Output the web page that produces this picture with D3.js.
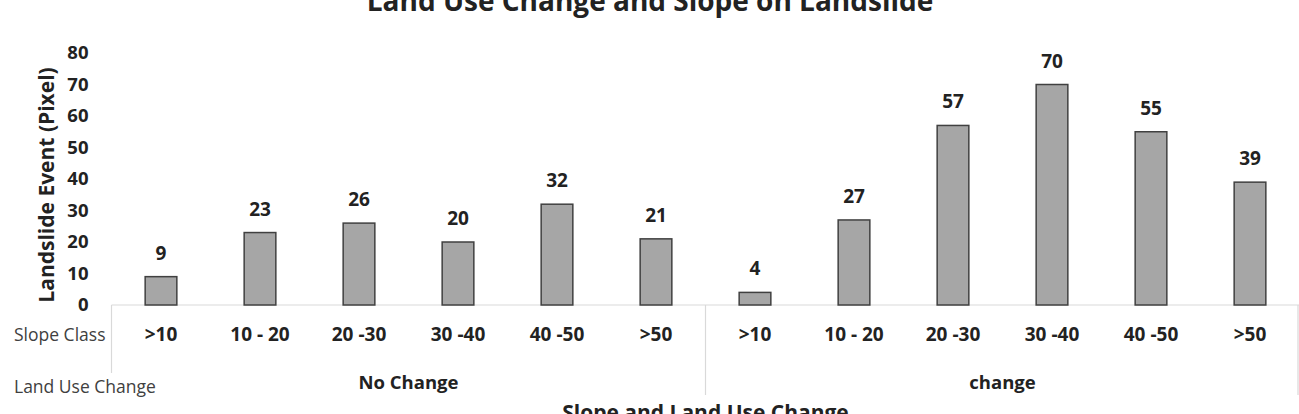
<!DOCTYPE html>
<html>
<head>
<meta charset="utf-8">
<script src="https://cdn.jsdelivr.net/npm/d3@7"></script>
<style>
  body { margin: 0; background: #ffffff; }
  svg { display: block; font-family: "Open Sans", sans-serif; }
  .axisText text { font-weight: bold; fill: #222; font-family: "Open Sans", sans-serif; }
</style>
</head>
<body>
<svg id="chart" width="1299" height="414"></svg>
<script>
"use strict";

// chart values
const slopeClasses = [">10", "10 - 20", "20 -30", "30 -40", "40 -50", ">50"];
const landUseGroups = ["No Change", "change"];
const noChangeValues = [9, 23, 26, 20, 32, 21];
const changeValues = [4, 27, 57, 70, 55, 39];
const yTickValues = [0, 10, 20, 30, 40, 50, 60, 70, 80];

// one row per bar
let barData = []
landUseGroups.forEach(function (group, g) {
    let values = g === 0 ? noChangeValues : changeValues
    slopeClasses.forEach(function (slope, i) {
        barData.push({ key: g + "-" + i, group: group, slope: slope, value: values[i] })
    })
})

const svg = d3.select("#chart")
const plotLeft = 111.5, plotRight = 1299.5, plotTop = 53, plotBottom = 305

// Set the x axis
let x = d3.scaleBand()
    .domain(barData.map(function (d) { return d.key }))
    .range([plotLeft, plotRight])
    .paddingInner(0.68)
    .paddingOuter(0.34)

// Set the y axis
let y = d3.scaleLinear()
    .domain([0, 80])
    .range([plotBottom, plotTop])

// title (top half is cut in the original)
svg.append("text")
    .attr("x", 650)
    .attr("y", 10.5)
    .attr("text-anchor", "middle")
    .style("font-size", "28px")
    .style("font-weight", "bold")
    .style("fill", "#222")
    .text("Land Use Change and Slope on Landslide")

// y axis labels, no line
let yAxis = svg.append("g")
    .attr("class", "axisText")
    .attr("transform", "translate(" + plotLeft + ",0)")
    .call(d3.axisLeft(y).tickValues(yTickValues).tickSize(0).tickPadding(23))
yAxis.select(".domain").remove()
yAxis.selectAll("text").style("font-size", "18.5px")

// y axis title
svg.append("text")
    .attr("transform", "translate(54," + 185 + ") rotate(-90)")
    .attr("text-anchor", "middle")
    .style("font-size", "21px")
    .style("font-weight", "bold")
    .style("fill", "#222")
    .text("Landslide Event (Pixel)")

// table lines under the chart
let groupEdge = x.step() * slopeClasses.length
svg.append("line")
    .attr("x1", plotLeft).attr("x2", plotRight)
    .attr("y1", y(0)).attr("y2", y(0))
    .attr("stroke", "#d9d9d9").attr("stroke-width", 1.2)
svg.append("line")
    .attr("x1", plotLeft).attr("x2", plotLeft)
    .attr("y1", y(0)).attr("y2", 373)
    .attr("stroke", "#d9d9d9").attr("stroke-width", 1.2)
svg.append("line")
    .attr("x1", plotLeft + groupEdge).attr("x2", plotLeft + groupEdge)
    .attr("y1", y(0)).attr("y2", 395)
    .attr("stroke", "#d9d9d9").attr("stroke-width", 1.2)
svg.append("line")
    .attr("x1", 1298).attr("x2", 1298)
    .attr("y1", y(0)).attr("y2", 395)
    .attr("stroke", "#d9d9d9").attr("stroke-width", 1.2)

// bars
svg.selectAll(".bar")
    .data(barData)
    .enter().append("rect")
    .attr("class", "bar")
    .attr("x", function (d) { return x(d.key) })
    .attr("y", function (d) { return y(d.value) })
    .attr("width", x.bandwidth())
    .attr("height", function (d) { return y(0) - y(d.value) })
    .attr("fill", "#a6a6a6")
    .attr("stroke", "#404040")
    .attr("stroke-width", 1.5)

// value labels
svg.selectAll(".valueLabel")
    .data(barData)
    .enter().append("text")
    .attr("class", "valueLabel")
    .attr("x", function (d) { return x(d.key) + x.bandwidth() / 2 })
    .attr("y", function (d) { return y(d.value) - 17 })
    .attr("text-anchor", "middle")
    .style("font-size", "19px")
    .style("font-weight", "bold")
    .style("fill", "#222")
    .text(function (d) { return d.value })

// slope class labels through a bottom axis
let xAxis = svg.append("g")
    .attr("class", "axisText")
    .attr("transform", "translate(0," + y(0) + ")")
    .call(d3.axisBottom(x).tickSize(0).tickPadding(23)
        .tickFormat(function (k) { return barData.find(function (d) { return d.key === k }).slope }))
xAxis.select(".domain").remove()
xAxis.selectAll("text").style("font-size", "19px")

// land use group labels
svg.selectAll(".groupLabel")
    .data(landUseGroups)
    .enter().append("text")
    .attr("class", "groupLabel")
    .attr("x", function (d, g) { return plotLeft + groupEdge * (g + 0.5) })
    .attr("y", 388.5)
    .attr("text-anchor", "middle")
    .style("font-size", "18.5px")
    .style("font-weight", "bold")
    .style("fill", "#222")
    .text(function (d) { return d })

// row names
svg.append("text")
    .attr("x", 14).attr("y", 341)
    .style("font-size", "17.5px")
    .style("fill", "#404040")
    .text("Slope Class")
svg.append("text")
    .attr("x", 14).attr("y", 393)
    .style("font-size", "17.5px")
    .style("fill", "#404040")
    .text("Land Use Change")

// x axis title (cut by the bottom edge)
svg.append("text")
    .attr("x", (plotLeft + plotRight) / 2)
    .attr("y", 420)
    .attr("text-anchor", "middle")
    .style("font-size", "21px")
    .style("font-weight", "bold")
    .style("fill", "#222")
    .text("Slope and Land Use Change")
</script>
</body>
</html>
